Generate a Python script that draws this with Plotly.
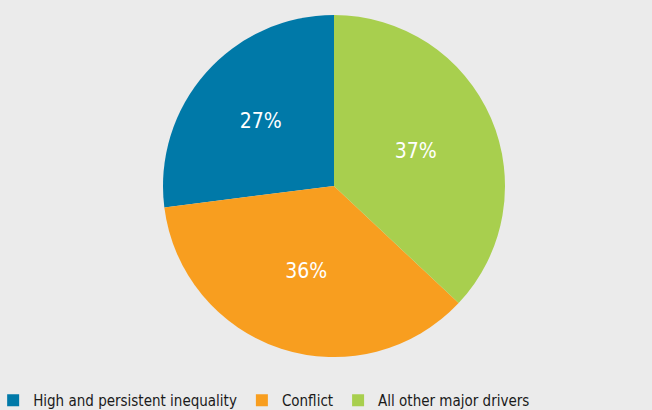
import plotly.graph_objects as go

# Données
drivers = ["High and persistent inequality", "Conflict", "All other major drivers"]
shares = [27, 36, 37]
colors = ["#0079a8", "#f89e1f", "#a8cf4e"]

W, H = 652, 410
cx, cy, r = 334, 186, 171
police = "DejaVu Sans Condensed"

fig = go.Figure(
    go.Pie(
        labels=drivers,
        values=shares,
        sort=False,
        direction="counterclockwise",
        rotation=-97.2,
        marker=dict(colors=colors, line=dict(width=0)),
        texttemplate="%{value}%",
        textposition="inside",
        insidetextorientation="horizontal",
        textfont=dict(color="white", size=21, family=police),
        domain=dict(x=[(cx - r) / W, (cx + r) / W], y=[1 - (cy + r) / H, 1 - (cy - r) / H]),
    )
)

fig.update_layout(
    width=W,
    height=H,
    margin=dict(l=0, r=0, t=0, b=0, autoexpand=False),
    paper_bgcolor="#ebebeb",
    font=dict(family=police, size=15, color="#1a1a1a"),
    legend=dict(
        orientation="h",
        x=-0.0105,
        xanchor="left",
        y=-0.017,
        yanchor="bottom",
        bgcolor="rgba(0,0,0,0)",
        font=dict(size=15),
    ),
)

fig.write_html(
    "out.html",
    config={"displayModeBar": False},
    post_script="document.body.style.margin='0';",
)
